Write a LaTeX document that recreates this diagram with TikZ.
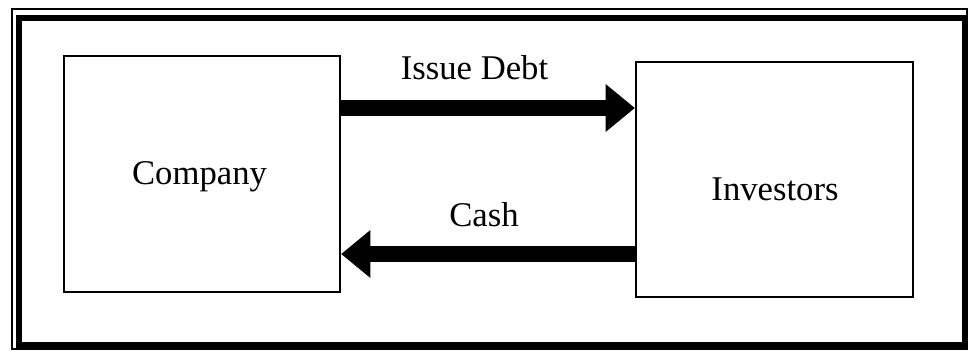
\documentclass[tikz,border=0pt]{standalone}
\usepackage{fontspec}
\setmainfont{Liberation Serif}
\usetikzlibrary{arrows.meta}
\tikzset{
  box/.style={draw=black,line width=1.6pt,fill=none,inner sep=0pt},
  word/.style={anchor=base,inner sep=0pt,font=\fontsize{26}{30}\selectfont},
  bigarrow/.style={line width=12pt,-{Triangle[length=22pt,width=34.5pt]}},
}
\begin{document}
\begin{tikzpicture}[x=0.75pt,y=-0.75pt]
        \useasboundingbox (0,0) rectangle (970,351);
        \draw[line width=1.2pt] (12,9) rectangle (967,349);
        \draw[line width=4.5pt] (19,18) rectangle (965,345);
        \node[box,minimum width=207pt,minimum height=177pt] (company) at (202,174) {};
        \node[box,minimum width=207.75pt,minimum height=176pt] (investors) at (774.5,179.5) {};
        \node[word] (companytext) at (199.5,184) {Company};
        \node[word] (investorstext) at (775,200) {Investors};
        \coordinate (debtrow) at (0,108);
        \coordinate (cashrow) at (0,254);
        \draw[bigarrow] (company.east |- debtrow) -- (investors.west |- debtrow);
        \draw[bigarrow] (investors.west |- cashrow) -- (company.east |- cashrow);
        \node[word] (debt) at (474.5,79) {Issue Debt};
        \node[word] (cash) at (484,226) {Cash};
\end{tikzpicture}
\end{document}
